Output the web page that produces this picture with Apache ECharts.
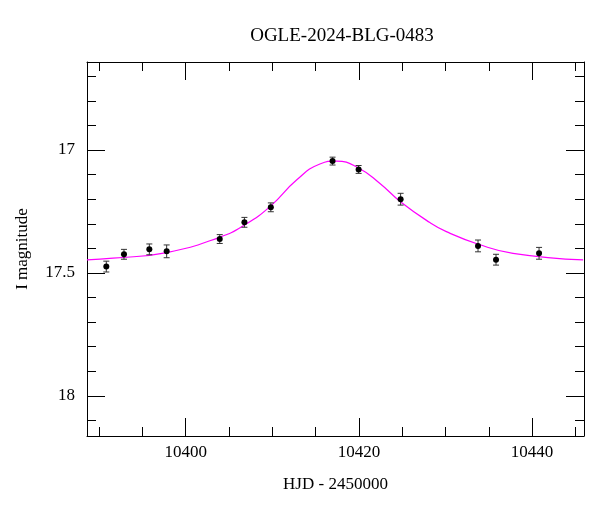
<!DOCTYPE html>
<html><head><meta charset="utf-8">
<script src="https://cdn.jsdelivr.net/npm/echarts@6/dist/echarts.min.js"></script>
<style>html,body{margin:0;background:#fff}#c{width:600px;height:512px}</style>
</head><body><div id="c"></div>
<script>
// observed photometry (HJD-2450000, I mag, error)
var obsT = [10390.83, 10392.87, 10395.80, 10397.80, 10403.93, 10406.78, 10409.83, 10416.96, 10419.97, 10424.82, 10433.76, 10435.84, 10440.81];
var obsMag = [17.474, 17.424, 17.404, 17.412, 17.362, 17.294, 17.233, 17.045, 17.079, 17.200, 17.390, 17.446, 17.420];
var obsErr = [0.022, 0.020, 0.022, 0.026, 0.018, 0.020, 0.018, 0.016, 0.016, 0.024, 0.024, 0.022, 0.024];
// model curve
var fitT = [10388.6, 10391.6, 10397.8, 10403.9, 10406.8, 10409.8, 10412.8, 10415.5, 10417.4, 10420.0, 10422.4, 10424.8, 10428.2, 10430.1, 10433.8, 10437.8, 10445.9];
var fitMag = [17.447, 17.440, 17.417, 17.355, 17.305, 17.228, 17.122, 17.057, 17.045, 17.074, 17.135, 17.210, 17.295, 17.332, 17.383, 17.420, 17.447];
// tick positions
var xMajor = [10400, 10420, 10440];
var xMinor = [10390, 10395, 10405, 10410, 10415, 10425, 10430, 10435, 10445];
var yMajor = [17, 17.5, 18];
var yMinor = [16.7, 16.8, 16.9, 17.1, 17.2, 17.3, 17.4, 17.6, 17.7, 17.8, 17.9, 18.1];

var font = '"Liberation Serif", "DejaVu Serif", serif';
var xMin = 10388.6, xMax = 10446.0, yMin = 16.642, yMax = 18.163;

var myChart = echarts.init(document.getElementById('c'));

function ax(type, pos, ticks, len, labels, show, name) {
    var o = {
        type: 'value', position: pos, inverse: type === 'y',
        min: type === 'x' ? xMin : yMin, max: type === 'x' ? xMax : yMax,
        axisLine: {show: show, lineStyle: {color: '#000', width: 1}},
        axisTick: {inside: true, length: len, customValues: ticks, lineStyle: {color: '#000'}},
        axisLabel: {show: labels, customValues: ticks, color: '#000', fontFamily: font, fontSize: 17,
            margin: type === 'x' ? 8 : 12, formatter: function (v) { return String(v); }},
        splitLine: {show: false}
    };
    if (name) {
        o.name = name; o.nameLocation = 'middle';
        o.nameTextStyle = {fontFamily: font, fontSize: 17, color: '#000'};
        o.nameGap = type === 'x' ? 40 : 56;
        if (type === 'y') o.nameRotate = 90;
    }
    return o;
}

var pts = obsT.map(function (t, i) { return [t, obsMag[i], obsErr[i]]; });

var option = {
    backgroundColor: '#fff',
    animation: false,
    title: {text: 'OGLE-2024-BLG-0483', left: 337, top: 22, textAlign: 'center',
        textStyle: {fontFamily: font, fontSize: 19, fontWeight: 'normal', color: '#000'}},
    grid: {left: 87, right: 16, top: 62, bottom: 76},
    xAxis: [ax('x', 'bottom', xMajor, 18, true, true, 'HJD - 2450000'), ax('x', 'bottom', xMinor, 9, false, false),
            ax('x', 'top', xMajor, 18, false, true), ax('x', 'top', xMinor, 9, false, false)],
    yAxis: [ax('y', 'left', yMajor, 18, true, true, 'I magnitude'), ax('y', 'left', yMinor, 9, false, false),
            ax('y', 'right', yMajor, 18, false, true), ax('y', 'right', yMinor, 9, false, false)],
    series: [
        {type: 'line', data: fitT.map(function (t, i) { return [t, fitMag[i]]; }), smooth: 0.5,
            showSymbol: false, lineStyle: {color: '#ff00ff', width: 1.2}, z: 2},
        {type: 'custom', data: pts, z: 3,
            renderItem: function (params, api) {
                var t = api.value(0), m = api.value(1), e = api.value(2);
                var a = api.coord([t, m - e]), b = api.coord([t, m + e]), c = api.coord([t, m]);
                var s = {stroke: '#333', lineWidth: 1};
                return {type: 'group', children: [
                    {type: 'line', shape: {x1: a[0], y1: a[1], x2: b[0], y2: b[1]}, style: s},
                    {type: 'line', shape: {x1: a[0] - 3, y1: a[1], x2: a[0] + 3, y2: a[1]}, style: s},
                    {type: 'line', shape: {x1: b[0] - 3, y1: b[1], x2: b[0] + 3, y2: b[1]}, style: s},
                    {type: 'circle', shape: {cx: c[0], cy: c[1], r: 3}, style: {fill: '#000'}}
                ]};
            }}
    ]
};
myChart.setOption(option);
</script></body></html>
